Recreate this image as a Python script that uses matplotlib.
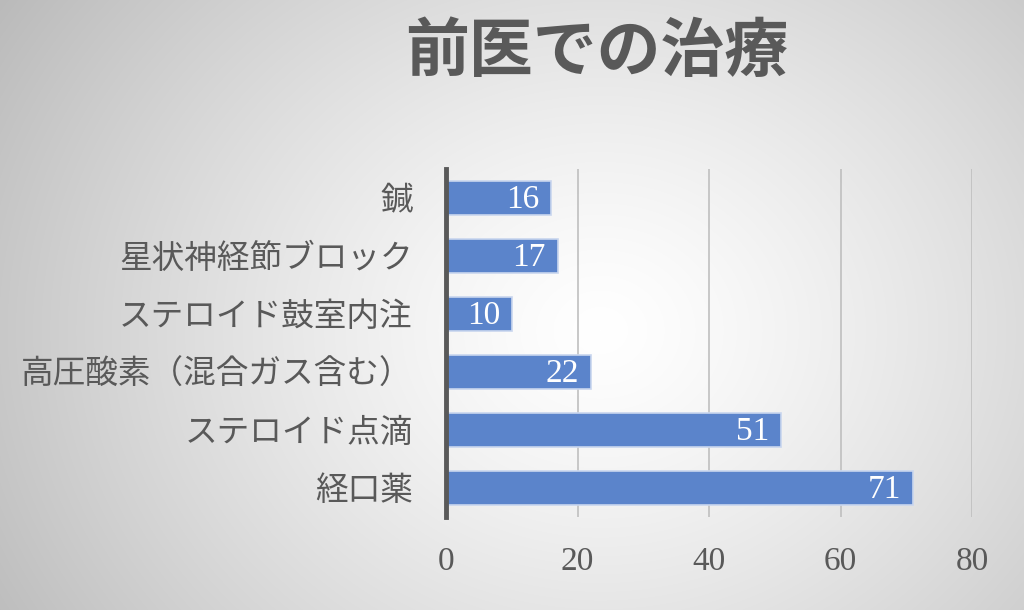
import numpy as np
import matplotlib
matplotlib.use("Agg")
import matplotlib.pyplot as plt

categories = ["経口薬", "ステロイド点滴", "高圧酸素（混合ガス含む）",
              "ステロイド鼓室内注", "星状神経節ブロック", "鍼"]
counts = [71, 51, 22, 10, 17, 16]
x_ticks = [0, 20, 40, 60, 80]
title = "前医での治療"

fonts = ["Liberation Serif", "Noto Sans CJK JP", "DejaVu Sans"]
plt.rcParams["font.family"] = fonts
text_gray = "#595959"
bar_color = "#5B84CB"

fig = plt.figure(figsize=(10.24, 6.10), dpi=100)

# radial gradient backdrop
bg = fig.add_axes([0, 0, 1, 1], zorder=-10)
h, w = 610, 1024
yy, xx = np.mgrid[0:h, 0:w]
cx, cy = 600, 330
r = np.sqrt(((xx - cx) / 1.0) ** 2 + ((yy - cy) / 0.85) ** 2)
r = r / r.max()
val = 1.0 - 0.27 * np.clip(r, 0, 1) ** 1.3
bg.imshow(np.dstack([val, val, val]), extent=[0, 1, 0, 1], aspect="auto",
          interpolation="bilinear")
bg.set_axis_off()

ax = fig.add_axes([446 / 1024, 1 - 517 / 610, (972 - 446) / 1024, (517 - 169) / 610])
ax.patch.set_alpha(0)

y = np.arange(len(categories))
ax.barh(y, counts, height=0.57, color=bar_color, edgecolor="#c9d6ee",
        linewidth=1.2, zorder=3)

for yi, v in zip(y, counts):
    ax.text(v - 1.8, yi - 0.03, str(v), ha="right", va="center", color="white",
            fontsize=24, zorder=4)

ax.set_xlim(0, 80)
ax.set_ylim(-0.5, len(categories) - 0.5)
ax.set_xticks(x_ticks)
ax.set_xticklabels([str(t) for t in x_ticks], color=text_gray, fontsize=24)
ax.tick_params(axis="x", length=0, pad=21)
ax.set_yticks(y)
ax.set_yticklabels(categories, color=text_gray, fontsize=23.5)
ax.tick_params(axis="y", length=0, pad=24)

ax.grid(axis="x", color="#bfbfbf", linewidth=1.2, zorder=0)
ax.set_axisbelow(True)
for s in ["top", "right", "bottom"]:
    ax.spines[s].set_visible(False)
ax.spines["left"].set_color(text_gray)
ax.spines["left"].set_linewidth(3.5)
ax.spines["left"].set_zorder(5)

fig.text(597 / 1024, 1 - 55 / 610, title, ha="center", va="center",
         fontsize=46, color=text_gray, fontweight="bold")

fig.savefig("out.png", dpi=100)
